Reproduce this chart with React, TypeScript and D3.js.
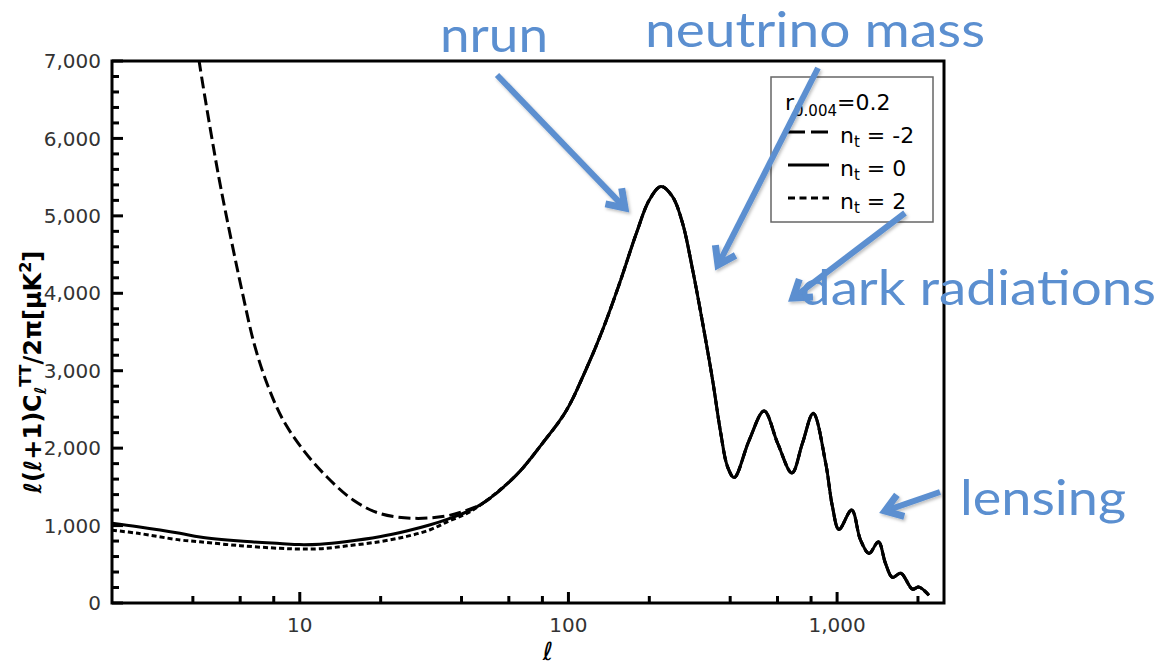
import React from "react";
import * as d3 from "d3";

// ---- data ----
// shared part (all three n_t curves coincide for ℓ ≳ 48)
const ellShared = [48, 64, 80, 98, 116, 134, 155, 179, 200, 221, 244, 266, 290, 316, 344, 369, 391, 414, 471, 535, 601, 679, 743, 815, 907, 961, 1016, 1133, 1222, 1315, 1425, 1514, 1607, 1727, 1906, 2018, 2198];
const valShared = [1287, 1653, 2062, 2480, 3009, 3526, 4129, 4775, 5205, 5380, 5248, 4904, 4301, 3612, 2880, 2192, 1760, 1620, 2105, 2480, 2062, 1680, 2062, 2450, 1804, 1244, 950, 1200, 814, 640, 790, 512, 330, 385, 180, 205, 100];

// low-ℓ parts
const ellSolid = [2, 2.5, 3.58, 4.25, 6, 8.43, 10, 11.9, 15, 19.8, 25, 30.4, 36, 42];
const valSolid = [1030, 985, 900, 852, 800, 768, 754, 760, 795, 856, 930, 1007, 1090, 1180];

const ellDotted = [2, 2.5, 3.58, 4.25, 6, 8.43, 10, 11.9, 15, 19.8, 25, 30.4, 36, 42];
const valDotted = [940, 900, 814, 790, 740, 706, 697, 700, 738, 792, 860, 943, 1060, 1160];

const ellDashed = [4.05, 4.22, 4.63, 5.09, 6.16, 6.81, 7.63, 8.67, 10.3, 12.6, 15.8, 19.8, 26.4, 35.1, 42];
const valDashed = [7450, 7000, 6150, 5350, 3956, 3310, 2793, 2363, 1976, 1631, 1330, 1158, 1094, 1124, 1200];

const yTicks = [0, 1000, 2000, 3000, 4000, 5000, 6000, 7000];
const xMajor = [10, 100, 1000];
const xMinor = [4, 6, 8, 20, 40, 60, 80, 200, 400, 600, 800, 2000];

const legendItems = [
  { label: "-2", dash: "17,6" },
  { label: "0", dash: "none" },
  { label: "2", dash: "7,4.5" },
];

const annotations = [
  { text: "nrun", x: 440, y: 52, w: 108 },
  { text: "neutrino mass", x: 645, y: 47, w: 340 },
  { text: "dark radiations", x: 800, y: 305, w: 356 },
  { text: "lensing", x: 960, y: 515, w: 166 },
];
const arrows = [
  { x1: 497, y1: 75, x2: 625, y2: 208 },
  { x1: 818, y1: 68, x2: 718, y2: 265 },
  { x1: 905, y1: 213, x2: 793, y2: 298 },
  { x1: 940, y1: 492, x2: 885, y2: 511 },
];

export default function App() {
  const W = 1169, H = 667;
  const left = 112, right = 944, top = 61, bottom = 603;
  const x = d3.scaleLog().domain([2, 2500]).range([left, right]);
  const y = d3.scaleLinear().domain([0, 7000]).range([bottom, top]);
  const line = d3
    .line<[number, number]>()
    .x((d) => x(d[0]))
    .y((d) => y(d[1]))
    .curve(d3.curveCatmullRom.alpha(0.5));

  const mk = (ls: number[], vs: number[]): [number, number][] =>
    ls.map((l, i) => [l, vs[i]] as [number, number]).concat(
      ellShared.map((l, i) => [l, valShared[i]] as [number, number])
    );

  const solid = mk(ellSolid, valSolid);
  const dotted = mk(ellDotted, valDotted);
  const dashed = mk(ellDashed, valDashed);

  const yMinor = d3.range(0, 7001, 200).filter((v) => v % 1000 !== 0);
  const fmt = d3.format(",");
  const blue = "#5b8fd0";
  const tickFont = "DejaVu Sans, Verdana, sans-serif";

  return (
    <svg width={W} height={H} style={{ position: "absolute", left: 0, top: 0, background: "#fff" }}>
      <defs>
        <clipPath id="plot">
          <rect x={left} y={top} width={right - left} height={bottom - top} />
        </clipPath>
        <filter id="shadow" x="-20%" y="-20%" width="140%" height="140%">
          <feDropShadow dx="1.5" dy="2" stdDeviation="1.5" floodColor="#000" floodOpacity="0.25" />
        </filter>
      </defs>
      <rect x={0} y={0} width={W} height={H} fill="#fff" />

      {/* curves */}
      <g clipPath="url(#plot)" fill="none" stroke="#000" strokeWidth={3}>
        <path d={line(dashed) || ""} strokeDasharray="12,5" />
        <path d={line(dotted) || ""} strokeDasharray="5,3" />
        <path d={line(solid) || ""} />
      </g>

      {/* ticks */}
      <g stroke="#000" strokeWidth={3}>
        {yTicks.map((v) => (
          <line key={"ym" + v} x1={left} x2={left + 11} y1={y(v)} y2={y(v)} />
        ))}
        {yMinor.map((v) => (
          <line key={"yn" + v} x1={left} x2={left + 7} y1={y(v)} y2={y(v)} />
        ))}
        {xMajor.map((v) => (
          <line key={"xm" + v} x1={x(v)} x2={x(v)} y1={bottom} y2={bottom - 11} />
        ))}
        {xMinor.map((v) => (
          <line key={"xn" + v} x1={x(v)} x2={x(v)} y1={bottom} y2={bottom - 7} />
        ))}
      </g>
      <rect x={left} y={top} width={right - left} height={bottom - top} fill="none" stroke="#000" strokeWidth={3} />

      {/* tick labels */}
      <g fontFamily={tickFont} fontSize={20} fill="#333">
        {yTicks.map((v) => (
          <text key={"yl" + v} x={101} y={y(v)} dy="0.36em" textAnchor="end">
            {fmt(v)}
          </text>
        ))}
        {xMajor.map((v) => (
          <text key={"xl" + v} x={x(v)} y={632} textAnchor="middle">
            {fmt(v)}
          </text>
        ))}
      </g>

      {/* axis titles */}
      <text
        transform="translate(41,372) rotate(-90)"
        textAnchor="middle"
        fontFamily={tickFont}
        fontWeight="bold"
        fontSize={24}
        fill="#000"
      >
        <tspan fontStyle="italic">ℓ</tspan>(<tspan fontStyle="italic">ℓ</tspan>+1)C
        <tspan fontSize={16} dy={5} fontStyle="italic">ℓ</tspan>
        <tspan fontSize={16} dy={-15}>TT</tspan>
        <tspan dy={10}>/2π[μK</tspan>
        <tspan fontSize={16} dy={-10}>2</tspan>
        <tspan dy={10}>]</tspan>
      </text>
      <text x={548} y={660} textAnchor="middle" fontFamily={tickFont} fontStyle="italic" fontSize={25} fill="#000">
        ℓ
      </text>

      {/* legend */}
      <g fontFamily={tickFont} fontSize={22} fill="#000">
        <rect x={771} y={77} width={162} height={145} fill="#fff" stroke="#666" strokeWidth={1.5} />
        <text x={785} y={110}>
          r<tspan fontSize={15} dy={6}>0.004</tspan>
          <tspan dy={-6}>=0.2</tspan>
        </text>
        {legendItems.map((it, i) => {
          const ly = 132 + i * 33;
          return (
            <g key={it.label}>
              <line
                x1={788}
                x2={829}
                y1={ly}
                y2={ly}
                stroke="#000"
                strokeWidth={3}
                strokeDasharray={it.dash === "none" ? undefined : it.dash}
              />
              <text x={840} y={ly + 11}>
                n<tspan fontSize={15} dy={4}>t</tspan>
                <tspan dy={-4}>{" = " + it.label}</tspan>
              </text>
            </g>
          );
        })}
      </g>

      {/* annotations */}
      <g stroke={blue} strokeWidth={6} fill="none" strokeLinecap="butt" strokeLinejoin="miter" filter="url(#shadow)">
        {arrows.map((a, i) => {
          const ang = Math.atan2(a.y2 - a.y1, a.x2 - a.x1);
          const L = 20, spread = 0.6;
          const p1 = [a.x2 - L * Math.cos(ang - spread), a.y2 - L * Math.sin(ang - spread)];
          const p2 = [a.x2 - L * Math.cos(ang + spread), a.y2 - L * Math.sin(ang + spread)];
          return (
            <g key={"ar" + i}>
              <line x1={a.x1} y1={a.y1} x2={a.x2 - 2 * Math.cos(ang)} y2={a.y2 - 2 * Math.sin(ang)} />
              <polyline points={`${p1[0]},${p1[1]} ${a.x2},${a.y2} ${p2[0]},${p2[1]}`} strokeWidth={7} />
            </g>
          );
        })}
      </g>
      <g fontFamily="Lato, 'Open Sans', sans-serif" fontSize={48} fill={blue}>
        {annotations.map((a) => (
          <text key={a.text} x={a.x} y={a.y} textLength={a.w} lengthAdjust="spacingAndGlyphs">
            {a.text}
          </text>
        ))}
      </g>
    </svg>
  );
}
